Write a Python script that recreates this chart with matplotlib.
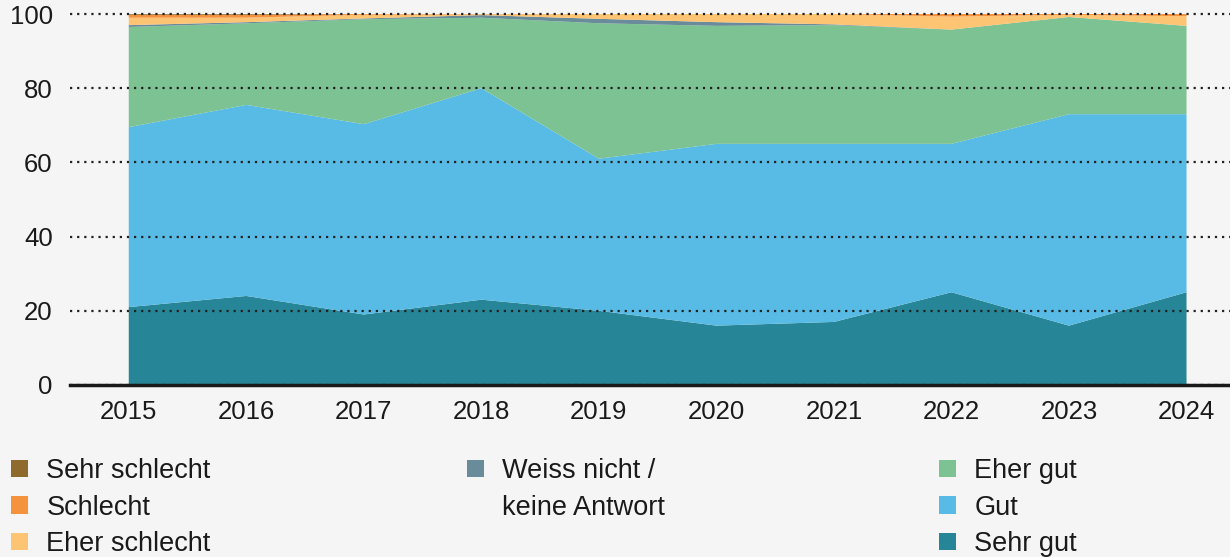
import matplotlib
matplotlib.use("Agg")
import matplotlib.pyplot as plt
from matplotlib.patches import Patch

plt.rcParams['font.family'] = ['Liberation Sans', 'DejaVu Sans']

years = [2015, 2016, 2017, 2018, 2019, 2020, 2021, 2022, 2023, 2024]

# shares in percent, bottom to top of the stack
sehr_gut = [21, 24, 19, 23, 20, 16, 17, 25, 16, 25]
gut = [48.5, 51.5, 51.3, 57, 41, 49, 48, 40, 57, 48]
eher_gut = [27, 22, 28.3, 19, 36.5, 31.8, 32, 30.8, 26.2, 23.8]
weiss_nicht = [0.5, 0.3, 0.2, 0.7, 1.2, 1.0, 0.2, 0.0, 0.0, 0.0]
eher_schlecht = [2.0, 1.2, 1.0, 0.2, 1.3, 2.2, 2.8, 3.5, 0.6, 2.6]
schlecht = [0.8, 0.8, 0.2, 0.1, 0.0, 0.0, 0.0, 0.7, 0.2, 0.6]
sehr_schlecht = [0.2, 0.2, 0.0, 0.0, 0.0, 0.0, 0.0, 0.0, 0.0, 0.0]

series = [sehr_gut, gut, eher_gut, weiss_nicht, eher_schlecht, schlecht, sehr_schlecht]
labels = ["Sehr gut", "Gut", "Eher gut", "Weiss nicht /\nkeine Antwort",
          "Eher schlecht", "Schlecht", "Sehr schlecht"]
colors = ["#268596", "#58BBE6", "#7DC293", "#6A8C9A", "#FDC473", "#F5923E", "#8E6A2C"]

bg = "#F5F5F5"
txt = "#1a1a1a"
fig = plt.figure(figsize=(12.3, 5.57), dpi=100, facecolor=bg)
ax = fig.add_axes([70 / 1230, 172 / 557, 1160 / 1230, 371 / 557])
ax.set_facecolor(bg)

ax.stackplot(years, *series, colors=colors, linewidth=0, zorder=1)

ax.set_ylim(0, 100)
ax.set_xlim(2014.5, 2024.37)
ax.set_yticks([0, 20, 40, 60, 80, 100])
ax.set_xticks(years)
ax.tick_params(length=0, labelsize=18.5, colors=txt)
ax.tick_params(axis="y", pad=12.5)
ax.tick_params(axis="x", pad=10.5)

ax.yaxis.grid(True, color="#222222", linestyle=(0, (1, 2.2)), linewidth=1.6, zorder=3)
for gl in ax.yaxis.get_gridlines():
    gl.set_clip_on(False)
ax.set_axisbelow(False)

for s in ["top", "right", "left"]:
    ax.spines[s].set_visible(False)
ax.spines["bottom"].set_color("#1a1a1a")
ax.spines["bottom"].set_linewidth(2.5)
ax.spines["bottom"].set_zorder(4)

# legend in three columns
cols = [
    ([6, 5, 4], [labels[6], labels[5], labels[4]], 11),
    ([3, None], ["Weiss nicht /", "keine Antwort"], 467),
    ([2, 1, 0], [labels[2], labels[1], labels[0]], 939),
]
for idx, labs, xpx in cols:
    handles = []
    for i in idx:
        if i is None:
            handles.append(Patch(facecolor="none", edgecolor="none"))
        else:
            handles.append(Patch(facecolor=colors[i], edgecolor="none"))
    fig.legend(handles, labs, loc="upper left", bbox_to_anchor=(xpx / 1230, 1 - 458 / 557),
               frameon=False, fontsize=19.5, handlelength=0.63, handleheight=0.63,
               handletextpad=0.68, labelspacing=0.39, borderpad=0, borderaxespad=0,
               labelcolor=txt)

fig.savefig("out.png", dpi=100, facecolor=bg)
